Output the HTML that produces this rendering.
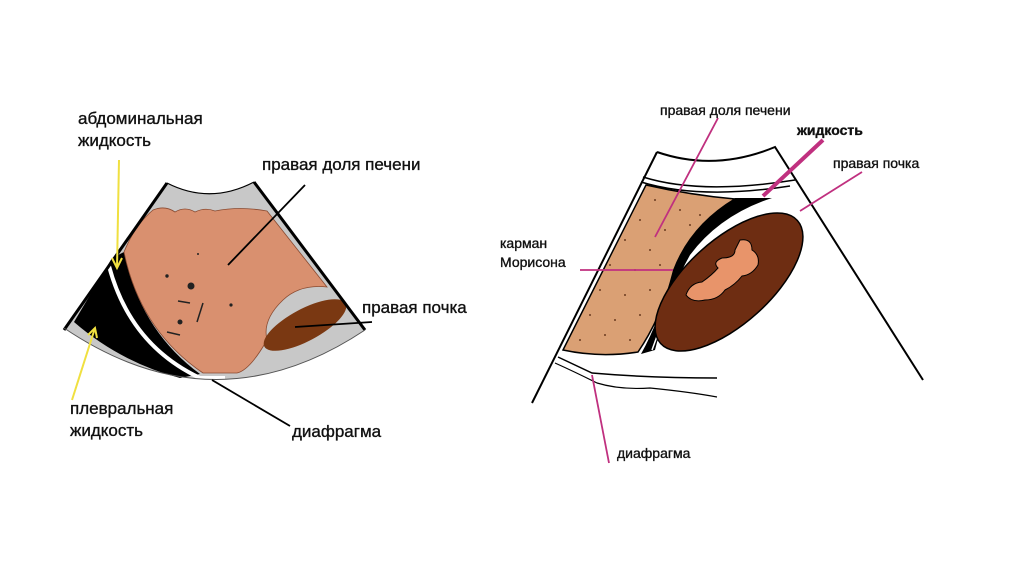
<!DOCTYPE html>
<html><head><meta charset="utf-8"><style>
html,body{margin:0;padding:0;background:#fff;}
svg{display:block;}
text{font-family:"Liberation Sans",sans-serif;fill:#111;stroke:#111;stroke-width:0.35;}
</style></head><body>
<svg width="1024" height="576" viewBox="0 0 1024 576" xmlns="http://www.w3.org/2000/svg">
<!-- LEFT DIAGRAM -->
<path d="M167,183 Q210,205 254,182 L365,330 Q215,430 64,328 Z" fill="#c8c8c8"/>
<path d="M112,258 L124,252 Q140,330 200,374 L180,378 Q120,362 74,322 Z" fill="#000"/>
<path d="M153,210 Q165,205 175,212 Q185,206 195,212 Q205,207 215,211 Q240,206 267,211 L327,287 Q300,284 283,300 Q262,320 267,340 Q250,370 237,373 L203,373 Q140,330 124,252 Q135,225 153,210 Z" fill="#d9906f" stroke="#8a4a30" stroke-width="0.8"/>
<ellipse cx="305" cy="325" rx="46" ry="16" transform="rotate(-28 305 325)" fill="#7a3812"/>
<path d="M109,266 Q130,345 200,378 L225,378" fill="none" stroke="#fff" stroke-width="4"/>
<g fill="#222">
<circle cx="191" cy="286" r="3.5"/><circle cx="167" cy="276" r="1.7"/><circle cx="180" cy="322" r="2.5"/><circle cx="231" cy="305" r="1.6"/><circle cx="198" cy="254" r="1"/>
</g>
<g stroke="#222" stroke-width="1.5" fill="none">
<path d="M178,301 L190,303"/><path d="M203,303 L197,322"/><path d="M167,332 L180,335"/>
</g>
<path d="M167,183 Q210,205 254,182" fill="none" stroke="#000" stroke-width="1.2"/>
<path d="M167,183 L64,330" stroke="#000" stroke-width="3"/>
<path d="M254,182 L365,330" stroke="#000" stroke-width="3"/>
<path d="M64,328 Q215,430 365,330" fill="none" stroke="#555" stroke-width="1"/>
<g stroke="#f0e040" stroke-width="2" fill="none">
<path d="M119,160 L117,268"/><path d="M112,258 L117,268 L122,258"/>
<path d="M72,400 L95,328"/><path d="M88,335 L95,328 L97,338"/>
</g>
<g stroke="#000" stroke-width="1.8">
<line x1="305" y1="185" x2="228" y2="265"/>
<line x1="372" y1="322" x2="295" y2="327"/>
<line x1="290" y1="426" x2="212" y2="380"/>
</g>
<g font-size="17">
<text x="78" y="124">абдоминальная</text>
<text x="78" y="146">жидкость</text>
<text x="262" y="170">правая доля печени</text>
<text x="362" y="313">правая почка</text>
<text x="70" y="414">плевральная</text>
<text x="70" y="436">жидкость</text>
<text x="292" y="437">диафрагма</text>
</g>

<!-- RIGHT DIAGRAM -->
<path d="M657,152 Q715,172 775,147 L923,380" fill="none" stroke="#000" stroke-width="2"/>
<path d="M657,152 L532,403" stroke="#000" stroke-width="2"/>
<path d="M643,177 Q700,195 795,180" fill="none" stroke="#000" stroke-width="1.5"/>
<path d="M641,182 Q700,200 790,186" fill="none" stroke="#000" stroke-width="1.5"/>
<path d="M646,185 Q690,195 735,199 Q690,230 675,270 Q660,320 638,352 Q600,358 563,350 Z" fill="#daa074" stroke="#000" stroke-width="1.5"/>
<g fill="#6a3a20">
<circle cx="655" cy="200" r="1"/><circle cx="680" cy="210" r="1"/><circle cx="700" cy="215" r="1"/><circle cx="640" cy="220" r="1"/><circle cx="665" cy="230" r="1"/><circle cx="690" cy="225" r="1"/><circle cx="625" cy="240" r="1"/><circle cx="650" cy="250" r="1"/><circle cx="610" cy="265" r="1"/><circle cx="635" cy="270" r="1"/><circle cx="660" cy="265" r="1"/><circle cx="600" cy="290" r="1"/><circle cx="625" cy="295" r="1"/><circle cx="650" cy="290" r="1"/><circle cx="590" cy="315" r="1"/><circle cx="615" cy="320" r="1"/><circle cx="640" cy="315" r="1"/><circle cx="580" cy="340" r="1"/><circle cx="605" cy="335" r="1"/><circle cx="630" cy="340" r="1"/>
</g>
<path d="M735,198 L772,198 Q720,215 690,255 Q670,290 655,350 L641,354 Q660,320 673,270 Q690,225 735,198 Z" fill="#000"/>
<path d="M770,202 Q712,222 688,262 Q670,300 652,350" fill="none" stroke="#fff" stroke-width="1.5"/>
<ellipse cx="729" cy="282" rx="92" ry="42" transform="rotate(-42 729 282)" fill="#6e2d12" stroke="#000" stroke-width="1.5"/>
<path d="M740,240 Q752,238 752,250 Q760,255 758,265 Q752,275 742,276 Q735,285 725,290 Q718,300 705,300 Q692,303 686,295 Q690,283 702,282 Q712,275 718,268 Q712,262 722,258 Q735,258 735,250 Z" fill="#e8946a" stroke="#000" stroke-width="1"/>
<path d="M558,357 Q575,365 592,373 Q650,378 717,378" fill="none" stroke="#000" stroke-width="1.5"/>
<path d="M555,363 Q575,372 597,383 Q620,390 650,388 Q690,392 717,397" fill="none" stroke="#000" stroke-width="1.2"/>
<g stroke="#c0307f" stroke-width="1.8">
<line x1="718" y1="118" x2="655" y2="237"/>
<line x1="862" y1="172" x2="800" y2="211"/>
<line x1="580" y1="270" x2="673" y2="270"/>
<line x1="609" y1="463" x2="592" y2="375"/>
</g>
<line x1="823" y1="140" x2="763" y2="196" stroke="#c0307f" stroke-width="4"/>
<g font-size="14">
<text x="660" y="115">правая доля печени</text>
<text x="797" y="135" font-weight="bold">жидкость</text>
<text x="833" y="168">правая почка</text>
<text x="500" y="248">карман</text>
<text x="500" y="267">Морисона</text>
<text x="617" y="458">диафрагма</text>
</g>
</svg>
</body></html>
